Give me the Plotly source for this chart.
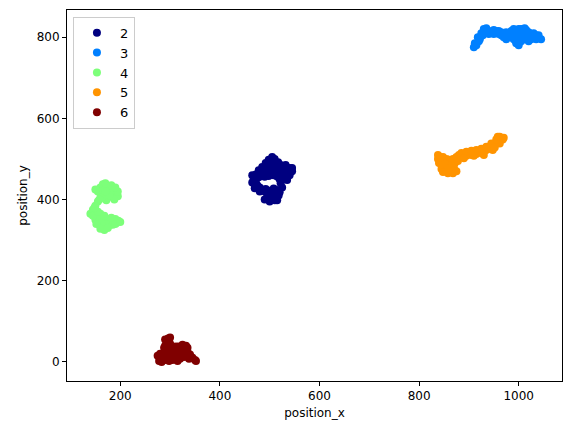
import plotly.graph_objects as go

ids = ["2", "3", "4", "5", "6"]
colors = ["#000080", "#0080ff", "#7dff7a", "#ff9400", "#800000"]

x2 = [500, 510, 515, 505, 495, 490, 500, 512, 520, 525, 522, 528, 535, 540, 545, 540, 530, 520, 515, 510,
      505, 498, 492, 485, 478, 472, 468, 470, 475, 480, 475, 472, 485, 495, 505, 515, 525, 510, 500, 490,
      500, 535, 545, 530, 495, 505, 480, 515, 517, 522, 470, 465, 485,
      495, 505, 520, 530, 540, 532, 478, 482, 490, 510, 500, 518, 470, 465, 508, 498,
      515, 490, 520, 492, 508, 480]
y2 = [395, 398, 405, 410, 415, 420, 422, 424, 418, 430, 440, 455, 448, 460, 470, 478, 480, 478, 490, 500,
      505, 498, 490, 480, 472, 462, 450, 438, 428, 420, 435, 445, 458, 462, 468, 470, 468, 480, 485, 470,
      475, 470, 478, 462, 405, 420, 460, 398, 492, 485, 455, 442, 472,
      480, 490, 465, 472, 468, 485, 455, 468, 400, 410, 410, 410, 428, 460, 460, 458,
      457, 456, 450, 426, 427, 430]

x3 = [910, 915, 920, 918, 925, 930, 935, 940, 945, 950, 955, 960, 965, 970, 975, 980, 985, 990, 995, 1000,
      1005, 1010, 1015, 1020, 1025, 1030, 1035, 1040, 1045, 990, 995, 1000, 1005, 1010, 1015, 1020, 985, 975,
      1000, 1025, 1035, 912, 928,
      930, 940, 950, 965, 975, 985, 995, 1005, 1010, 1020, 1030, 1040, 990, 1000, 995, 1015, 922, 935, 960, 1012]
y3 = [775, 780, 790, 800, 810, 820, 815, 808, 812, 818, 815, 808, 805, 800, 805, 810, 815, 820, 815, 812,
      820, 815, 818, 812, 808, 800, 805, 798, 795, 795, 785, 780, 790, 800, 795, 790, 800, 795,
      800, 795, 795, 785, 805,
      812, 815, 808, 812, 812, 808, 805, 805, 808, 805, 810, 805, 810, 820, 790, 805, 795, 822, 815, 822]

x4 = [160, 165, 172, 180, 188, 192, 185, 175, 168, 160, 155, 165, 178, 195, 188, 172, 162,
      155, 150, 145, 140,
      148, 155, 160, 165, 170, 178, 185, 192, 196, 190, 180, 172, 168, 162, 155, 150, 175, 185, 158, 163,
      150, 170, 182, 195, 178, 158, 190, 145, 152, 160, 175, 190, 200, 182, 168, 155, 148, 170]
y4 = [430, 438, 432, 428, 425, 415, 410, 405, 410, 415, 420, 422, 418, 408, 400, 398, 405,
      395, 385, 375, 365,
      362, 358, 365, 355, 350, 348, 345, 342, 348, 352, 338, 332, 325, 335, 345, 350, 340, 338, 352, 342,
      425, 440, 435, 420, 410, 400, 430, 360, 340, 328, 330, 340, 345, 355, 360, 370, 380, 420]

x5 = [838, 840, 845, 842, 850, 855, 850, 858, 865, 870, 862, 868, 875, 880, 885, 890, 895, 900, 905, 910,
      915, 920, 925, 930, 935, 940, 945, 950, 955, 960, 965, 958, 968, 962, 948, 872, 860, 845,
      838, 848, 855, 845, 852, 860, 868, 875, 878, 885, 895, 905, 915, 925, 935, 945, 955, 962, 970,
      952, 930, 910, 890, 848, 858]
y5 = [500, 490, 485, 505, 495, 480, 470, 465, 470, 478, 490, 500, 505, 510, 505, 512, 508, 515, 510, 518,
      512, 520, 515, 518, 522, 525, 530, 535, 540, 545, 550, 555, 548, 538, 522, 490, 498, 475,
      510, 505, 500, 495, 488, 478, 465, 470, 495, 515, 518, 520, 522, 525, 530, 538, 548, 555, 552,
      528, 510, 508, 502, 468, 472]

x6 = [275, 280, 283, 290, 295, 292, 290, 293, 296, 300, 302, 305, 310, 315, 318, 322, 325, 330, 335, 340,
      345, 350, 338, 328, 312, 305, 285, 298, 332, 318, 300, 288,
      280, 285, 300, 305, 310, 320, 328, 335, 325, 312, 298, 290, 342, 352, 278, 295, 315]
y6 = [15, 8, 0, 5, 12, 25, 40, 50, 58, 45, 30, 18, 10, 2, 15, 25, 35, 30, 25, 18,
      10, 5, 8, 12, 28, 38, 20, 2, 40, 38, 60, 35,
      20, 10, 20, 5, 20, 8, 22, 35, 42, 38, 52, 55, 12, 2, 2, 30, 30]

xs = [x2, x3, x4, x5, x6]
ys = [y2, y3, y4, y5, y6]

fig = go.Figure()
for name, c, xv, yv in zip(ids, colors, xs, ys):
    fig.add_trace(go.Scatter(x=xv, y=yv, mode="markers", name=name,
                             marker=dict(color=c, size=8, line=dict(width=0))))

axis_common = dict(showgrid=False, zeroline=False, showline=True, linecolor="black", linewidth=1,
                   mirror=True, ticks="outside", ticklen=4, tickcolor="black",
                   tickfont=dict(size=12, color="black"))
fig.update_layout(
    width=571, height=433,
    margin=dict(l=67, r=9, t=10, b=52),
    plot_bgcolor="white", paper_bgcolor="white",
    font=dict(family="DejaVu Sans", size=12, color="black"),
    xaxis=dict(range=[93, 1087], tickvals=[200, 400, 600, 800, 1000],
               title=dict(text="position_x", font=dict(size=12), standoff=6), **axis_common),
    yaxis=dict(range=[-47, 867], tickvals=[0, 200, 400, 600, 800],
               title=dict(text="position_y", font=dict(size=12), standoff=6), **axis_common),
    legend=dict(x=0.012, y=0.982, xanchor="left", yanchor="top", bgcolor="white",
                bordercolor="#cccccc", borderwidth=1, font=dict(size=13), itemwidth=36),
    showlegend=True,
)
fig.write_html("out.html")
